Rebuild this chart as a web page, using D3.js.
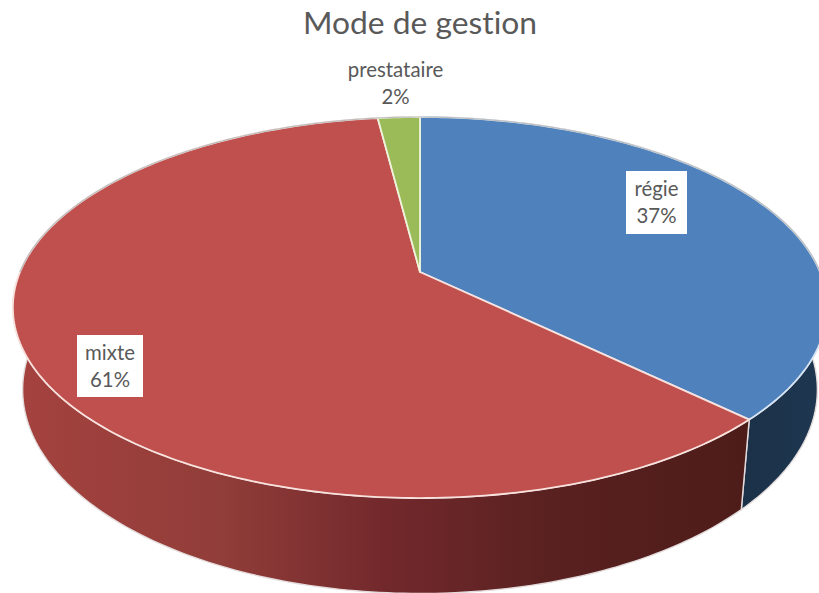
<!DOCTYPE html>
<html>
<head>
<meta charset="utf-8">
<script src="https://cdn.jsdelivr.net/npm/d3@7"></script>
<style>
  html, body { margin: 0; padding: 0; background: #fff; overflow: hidden; }
  svg { display: block; }
  text { font-family: Lato, "Open Sans", sans-serif; fill: #595959; font-variant-ligatures: none; }
</style>
</head>
<body>
<svg id="chart"></svg>
<script>
// values (slice sizes estimated, labels are rounded)
var categories = ["régie", "mixte", "prestataire"];
var values = [37.3, 60.7, 2];
var percentLabels = ["37%", "61%", "2%"];
var titleText = "Mode de gestion";

var colors = ["#4f81bd", "#c0504d", "#9bbb59"];
var edgeColors = ["#d6e4f3", "#f8e2de", "#eef3dc"];

var svgWidth = 819, svgHeight = 593;
var svg = d3.select("#chart").attr("width", svgWidth).attr("height", svgHeight);

// tilted disc: perspective from pie apex, worked out from the rim
var apexX = 420, apexY = 272;
var scaleU = 400, scaleV = 183.9, persp = 0.1864;

function rim(a) {
	var u = Math.sin(a), v = -Math.cos(a);
	var w = 1 - persp * v;
	return [apexX + scaleU * u / w, apexY + scaleV * v / w];
}

// same point on the lower rim of the wall
function lowerRim(a) {
	var p = rim(a);
	return [apexX + (p[0] - apexX) * 0.976, 510 + (p[1] - 420) * 1.07];
}

function sampleAngles(a0, a1) {
	var n = Math.max(4, Math.ceil((a1 - a0) * 60));
	return d3.range(n + 1).map(function(i) { return a0 + (a1 - a0) * i / n; });
}

var pie = d3.pie().sort(null)(values);
var line = d3.line();

// wall gradients
var defs = svg.append("defs");
var redGrad = defs.append("linearGradient").attr("id", "wallRed")
	.attr("gradientUnits", "userSpaceOnUse")
	.attr("x1", 15).attr("x2", 750).attr("y1", 0).attr("y2", 0);
[[0, "#a5423f"], [0.28, "#913d39"], [0.5, "#73292c"], [0.72, "#5a2121"], [1, "#4d1c19"]].forEach(function(s) {
	redGrad.append("stop").attr("offset", s[0]).attr("stop-color", s[1]);
});
var blueGrad = defs.append("linearGradient").attr("id", "wallBlue")
	.attr("gradientUnits", "userSpaceOnUse")
	.attr("x1", 742).attr("x2", 819).attr("y1", 0).attr("y2", 0);
[[0, "#1b3148"], [1, "#1e3650"]].forEach(function(s) {
	blueGrad.append("stop").attr("offset", s[0]).attr("stop-color", s[1]);
});
var wallFills = ["url(#wallBlue)", "url(#wallRed)", "#5f7336"];

// walls first, top faces go over them
svg.append("g").selectAll("path")
	.data(pie)
	.enter().append("path")
	.attr("d", function(d) {
		var angles = sampleAngles(d.startAngle, d.endAngle);
		var pts = angles.map(rim).concat(angles.slice().reverse().map(lowerRim));
		return line(pts) + "Z";
	})
	.attr("fill", function(d, i) { return wallFills[i]; })
	.attr("stroke", "#e4dcdc")
	.attr("stroke-width", 1.4)
	.attr("stroke-linejoin", "round");

svg.append("g").selectAll("path")
	.data(pie)
	.enter().append("path")
	.attr("d", function(d) {
		var pts = [[apexX, apexY]].concat(sampleAngles(d.startAngle, d.endAngle).map(rim));
		return line(pts) + "Z";
	})
	.attr("fill", function(d, i) { return colors[i]; })
	.attr("stroke", function(d, i) { return edgeColors[i]; })
	.attr("stroke-width", 1.8)
	.attr("stroke-linejoin", "round");

// grey edge along the back of the disc
svg.append("path")
	.attr("d", line(sampleAngles(-Math.PI / 2, Math.PI / 2).map(rim)))
	.attr("fill", "none")
	.attr("stroke", "#bdbdbd")
	.attr("stroke-width", 1.2);

// title
svg.append("text")
	.attr("x", 420).attr("y", 34)
	.attr("text-anchor", "middle")
	.attr("font-size", 31.8)
	.text(titleText);

// data labels
var labelBoxes = [
	{ x: 626, y: 171, w: 61, h: 63 },
	{ x: 77, y: 335, w: 66, h: 62 },
	null
];
var labelCenters = [[656.5, 196], [110, 360], [395.5, 77]];

var labels = svg.append("g").selectAll("g")
	.data(categories)
	.enter().append("g");

labels.each(function(d, i) {
	var g = d3.select(this);
	if (labelBoxes[i]) {
		g.append("rect")
			.attr("x", labelBoxes[i].x).attr("y", labelBoxes[i].y)
			.attr("width", labelBoxes[i].w).attr("height", labelBoxes[i].h)
			.attr("fill", "#fff");
	}
	g.append("text").attr("x", labelCenters[i][0]).attr("y", labelCenters[i][1])
		.attr("text-anchor", "middle").attr("font-size", 20.4).text(d);
	g.append("text").attr("x", labelCenters[i][0]).attr("y", labelCenters[i][1] + 27)
		.attr("text-anchor", "middle").attr("font-size", 20.4).text(percentLabels[i]);
});
</script>
</body>
</html>
